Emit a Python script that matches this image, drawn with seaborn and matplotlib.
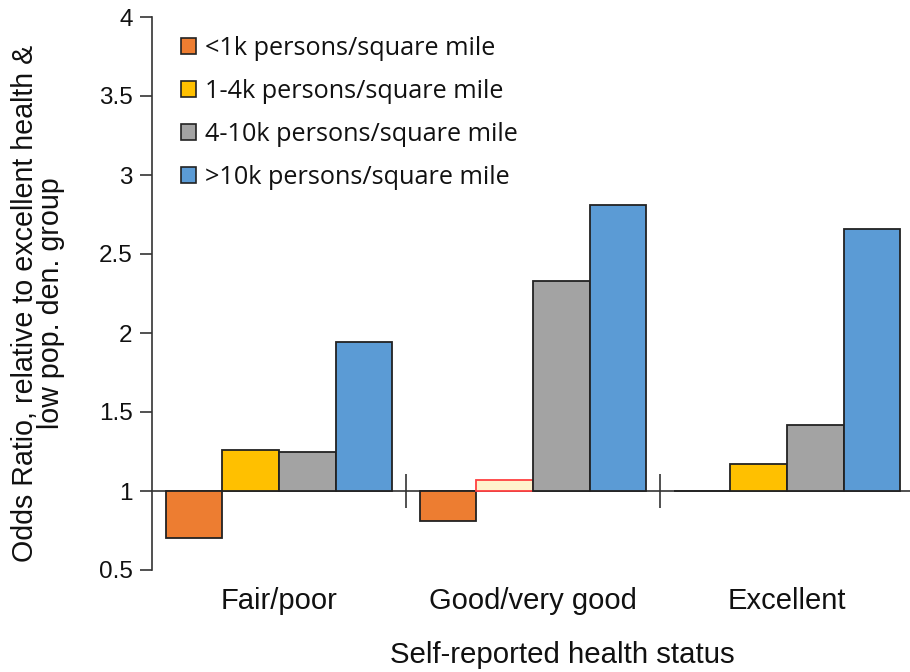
import matplotlib
matplotlib.use("Agg")
import matplotlib.pyplot as plt
from matplotlib.patches import Patch
import seaborn as sns
import pandas as pd

# Odds ratios by self-reported health status and population density group
health_status = ["Fair/poor", "Good/very good", "Excellent"]
density_groups = [
    "<1k persons/square mile",
    "1-4k persons/square mile",
    "4-10k persons/square mile",
    ">10k persons/square mile",
]
odds_lt1k = [0.70, 0.81, 1.00]
odds_1_4k = [1.26, 1.07, 1.17]
odds_4_10k = [1.25, 2.33, 1.42]
odds_gt10k = [1.94, 2.81, 2.66]

group_colors = ["#ED7D31", "#FFC000", "#A3A3A3", "#5B9BD5"]
y_ticks = [0.5, 1, 1.5, 2, 2.5, 3, 3.5, 4]

df = pd.DataFrame({
    "status": health_status * 4,
    "density": [g for g in density_groups for _ in health_status],
    "odds": odds_lt1k + odds_1_4k + odds_4_10k + odds_gt10k,
})
# bars grow from the reference ratio of 1
df["delta"] = df["odds"] - 1

sns.set_style("white")
plt.rcParams["font.family"] = ["Liberation Sans", "DejaVu Sans"]

fig = plt.figure(figsize=(9.1, 6.72), dpi=100)
ax = fig.add_axes([152 / 910, 1 - 570 / 672, 762 / 910, (570 - 17) / 672])

sns.barplot(
    data=df, x="status", y="delta", hue="density",
    order=health_status, hue_order=density_groups,
    palette=group_colors, errorbar=None, width=0.89,
    bottom=1, edgecolor="#222222", linewidth=1.3, saturation=1,
    legend=False, ax=ax,
)

# highlight the non-significant 1-4k bar in the middle group
mid = ax.containers[1][1]
mid.set_facecolor("#FFF2CC")
mid.set_edgecolor("#FF4040")

ax.set_ylim(0.5, 4)
ax.set_xlim(-0.5, 2.5)
ax.set_yticks(y_ticks)
ax.set_yticklabels([f"{v:g}" for v in y_ticks], fontsize=17.5, color="#111111")
ax.tick_params(axis="y", direction="out", length=9, width=1.2, color="#333333",
               left=True, pad=5)

for s in ["top", "right", "bottom"]:
    ax.spines[s].set_visible(False)
ax.spines["left"].set_color("#333333")
ax.spines["left"].set_linewidth(1.2)

# category labels at the bottom, axis line at ratio 1
ax.set_xticks(range(len(health_status)))
ax.set_xticklabels(health_status, fontsize=21, color="#111111")
ax.tick_params(axis="x", length=0, pad=12)
ax.set_xlabel("")
ax.set_ylabel("")

base = ax.secondary_xaxis((1 - 0.5) / (4 - 0.5))
base.set_xticks([0.5, 1.5])
base.set_xticklabels([])
base.tick_params(direction="inout", length=24, width=1.2, color="#333333")
base.spines["bottom"].set_color("#333333")
base.spines["bottom"].set_linewidth(1.2)

fig.text(38 / 910, 1 - 303 / 672,
         "Odds Ratio, relative to excellent health &\nlow pop. den. group",
         rotation=90, ha="center", va="center", fontsize=20.6, color="#111111",
         linespacing=0.92)
fig.text(562 / 910, 1 - 655 / 672, "Self-reported health status",
         ha="center", va="center", fontsize=21.2, color="#111111")

handles = [Patch(facecolor=c, edgecolor="#222222", linewidth=1.2, label=g)
           for c, g in zip(group_colors, density_groups)]
leg = ax.legend(handles=handles, loc="upper left",
                bbox_to_anchor=(163 / 910, 1 - 18 / 672),
                bbox_transform=fig.transFigure, frameon=False,
                prop={"family": ["Open Sans", "DejaVu Sans"], "size": 18.2},
                handlelength=0.6, handleheight=0.6, handletextpad=0.38,
                labelspacing=0.71, borderpad=0.2)
for t in leg.get_texts():
    t.set_color("#111111")

fig.savefig("out.png", dpi=100)
